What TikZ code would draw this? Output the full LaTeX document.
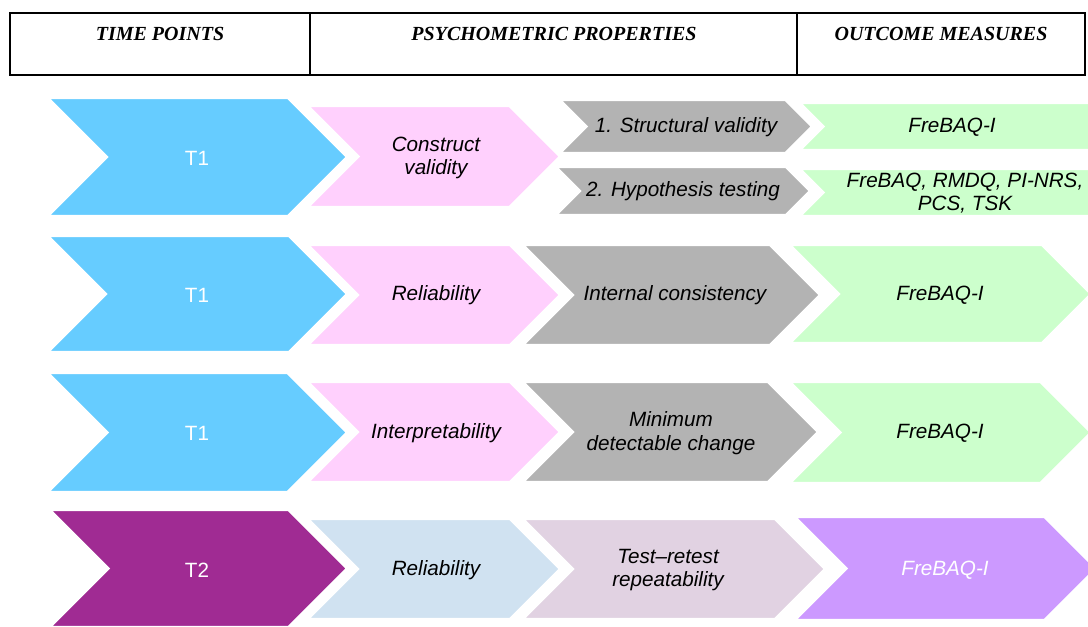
\documentclass[tikz,border=0pt]{standalone}
\usepackage{fontspec}
\setmainfont{Liberation Serif}
\newfontfamily\labelfont[Ligatures=TeX]{Liberation Sans}

\definecolor{tblue}{HTML}{66CCFF}
\definecolor{tpurple}{HTML}{A02B93}
\definecolor{ppink}{HTML}{FFD0FD}
\definecolor{pblue}{HTML}{D0E2F1}
\definecolor{mgray}{HTML}{B3B3B3}
\definecolor{mmauve}{HTML}{E1D2E2}
\definecolor{ogreen}{HTML}{CCFFCC}
\definecolor{oviolet}{HTML}{CC99FF}

% chevron: fill colour, left x, top y, bottom y, tip x (45 degree sides)
\newcommand{\chevron}[5]{%
  \path[chev,fill=#1] (#2,#3) -- ({#5-0.5*(#4-#3)},#3) -- (#5,{0.5*(#3+#4)})
    -- ({#5-0.5*(#4-#3)},#4) -- (#2,#4) -- ({#2+0.5*(#4-#3)},{0.5*(#3+#4)}) -- cycle;}

\begin{document}
\begin{tikzpicture}[x=0.75pt,y=-0.75pt,
  chev/.style={draw=white,line width=1.8pt,line join=miter},
  lbl/.style={font=\labelfont\itshape\fontsize{15.5}{17.5}\selectfont,align=center,text=black,inner sep=0pt},
  tlbl/.style={font=\labelfont\fontsize{15.5}{17.5}\selectfont,text=white,inner sep=0pt},
  head/.style={font=\bfseries\itshape\fontsize{15}{18}\selectfont,inner sep=0pt}]
\useasboundingbox (0,0) rectangle (1088,626);
\clip (0,0) rectangle (1088,626);

% header table
\draw[line width=1pt] (10,13) rectangle (1085,75);
\draw[line width=1pt] (310,13) -- (310,75) (797,13) -- (797,75);
\node[head] (hTime) at (160,34) {TIME POINTS};
\node[head] (hProp) at (554,34) {PSYCHOMETRIC PROPERTIES};
\node[head] (hOut) at (941,34) {OUTCOME MEASURES};

% row 1
\chevron{tblue}{48}{98}{216}{347}
\chevron{ppink}{308}{106}{207}{560}
\chevron{mgray}{560}{100}{153}{812}
\chevron{mgray}{556}{167}{215}{810}
\chevron{ogreen}{800}{103}{150}{1112}
\chevron{ogreen}{800}{169}{216}{1112}
\node[tlbl] (r1t) at (197,158) {T1};
\node[lbl] (r1p) at (436,158) {Construct\\validity};
\node[lbl] (r1a) at (686,127) {1. Structural validity};
\node[lbl] (r1b) at (683,191) {2. Hypothesis testing};
\node[lbl] (r1m) at (952,127) {FreBAQ-I};
\node[lbl] (r1n) at (965,193) {FreBAQ, RMDQ, PI-NRS,\\PCS, TSK};

% row 2
\chevron{tblue}{48}{236}{352}{347}
\chevron{ppink}{308}{245}{345}{560}
\chevron{mgray}{523}{245}{345}{820}
\chevron{ogreen}{790}{245}{343}{1091}
\node[tlbl] (r2t) at (197,295) {T1};
\node[lbl] (r2p) at (436,295) {Reliability};
\node[lbl] (r2a) at (675,295) {Internal consistency};
\node[lbl] (r2m) at (940,295) {FreBAQ-I};

% row 3
\chevron{tblue}{48}{373}{492}{347}
\chevron{ppink}{308}{382}{482}{560}
\chevron{mgray}{523}{382}{482}{818}
\chevron{ogreen}{790}{382}{483}{1091}
\node[tlbl] (r3t) at (197,433) {T1};
\node[lbl] (r3p) at (436,433) {Interpretability};
\node[lbl] (r3a) at (671,433) {Minimum\\detectable change};
\node[lbl] (r3m) at (940,433) {FreBAQ-I};

% row 4
\chevron{tpurple}{50}{510}{627}{347}
\chevron{pblue}{308}{519}{619}{560}
\chevron{mmauve}{523}{519}{619}{825}
\chevron{oviolet}{795}{517}{620}{1096}
\node[tlbl] (r4t) at (197,570) {T2};
\node[lbl] (r4p) at (436,570) {Reliability};
\node[lbl] (r4a) at (668,570) {Test–retest\\repeatability};
\node[lbl,text=white] (r4m) at (945,570) {FreBAQ-I};
\end{tikzpicture}
\end{document}
